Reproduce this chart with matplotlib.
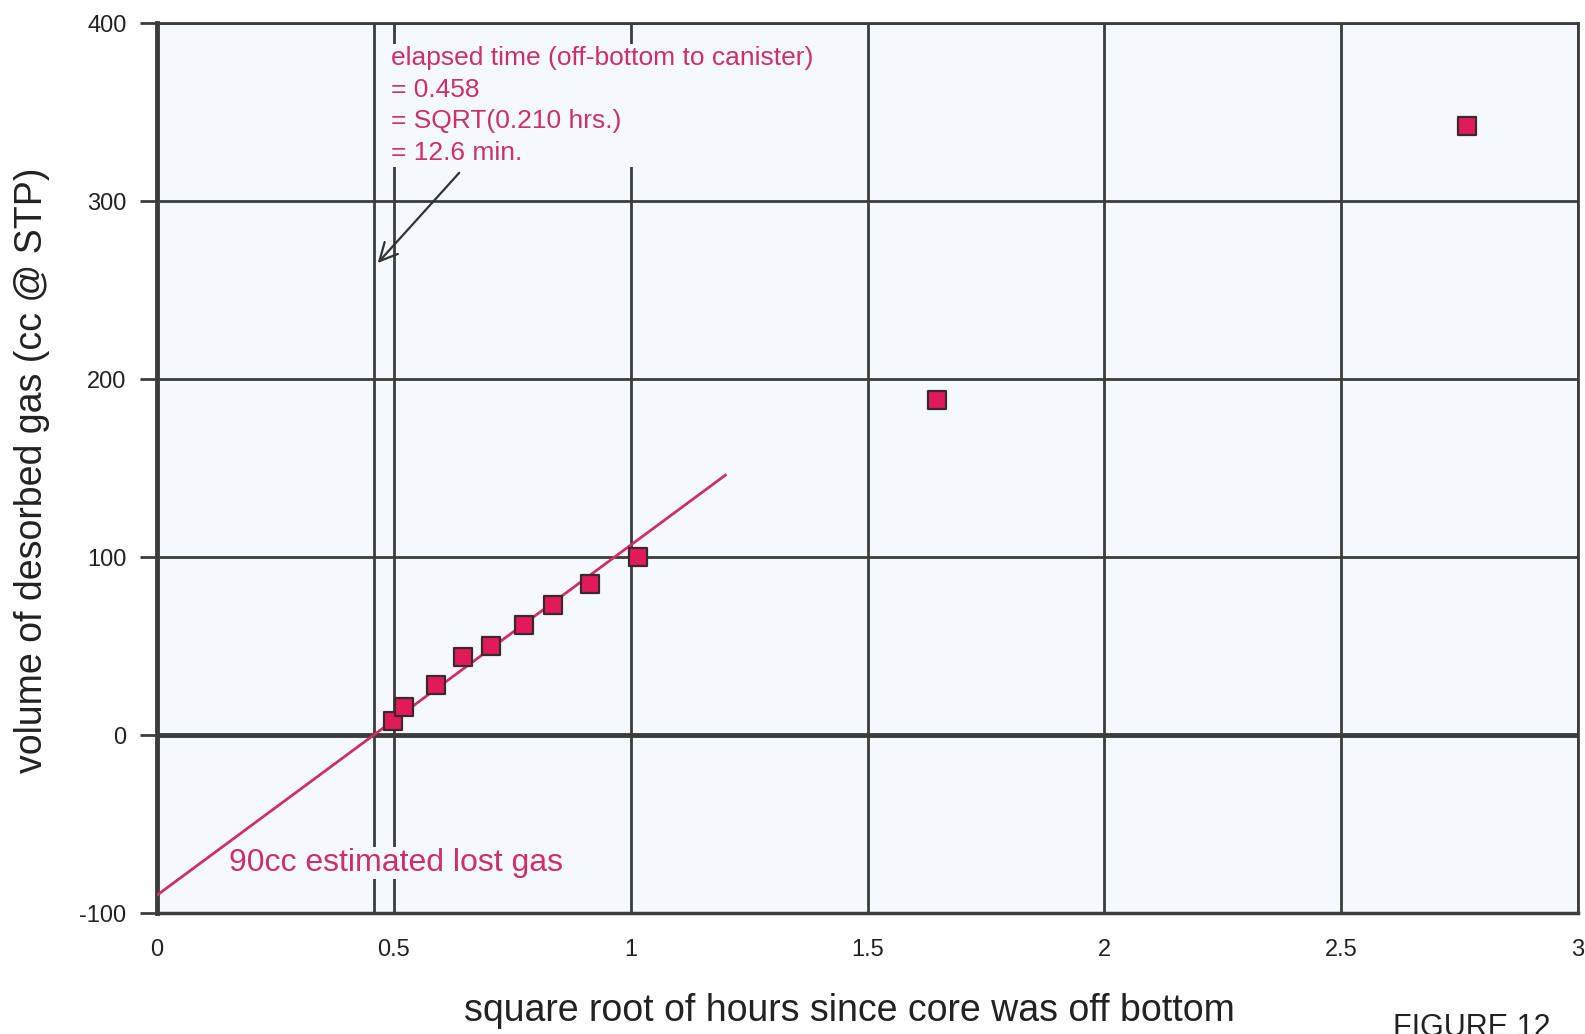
import matplotlib.pyplot as plt
from matplotlib.patches import FancyArrowPatch

plt.rcParams['font.family'] = ['Liberation Sans', 'DejaVu Sans']
plt.rcParams['axes.unicode_minus'] = False

# desorption readings
sqrt_hours = [0.499, 0.522, 0.589, 0.645, 0.706, 0.774, 0.837, 0.915, 1.015, 1.646, 2.766]
gas_cc = [8, 16, 28, 44, 50, 62, 73, 85, 100, 188, 342]

# straight-line fit back to zero (lost gas)
fit_x = [0.0, 1.2]
fit_y = [-90, 146]
t_zero = 0.458

x_ticks = [0, 0.5, 1, 1.5, 2, 2.5, 3]
x_ticklabels = ['0', '0.5', '1', '1.5', '2', '2.5', '3']
y_ticks = [-100, 0, 100, 200, 300, 400]

note_text = ('elapsed time (off-bottom to canister)\n= 0.458\n'
             '= SQRT(0.210 hrs.)\n= 12.6 min.')
lost_text = '90cc estimated lost gas'

bg = '#f3f9fc'
grid_col = '#3c3c3c'
red = '#cf2f66'

fig = plt.figure(figsize=(15.85, 10.34), dpi=100)
ax = fig.add_axes([157 / 1585, 1 - 913 / 1034, 1421 / 1585, 890 / 1034])
ax.set_facecolor(bg)

ax.set_xlim(0, 3)
ax.set_ylim(-100, 400)
ax.set_xticks(x_ticks)
ax.set_xticklabels(x_ticklabels)
ax.set_yticks(y_ticks)
ax.tick_params(axis='x', length=0, pad=19, labelsize=17, colors='#222222')
ax.tick_params(axis='y', length=12, width=2, color=grid_col, pad=10,
               labelsize=17, labelcolor='#222222')

ax.set_axisbelow(True)
ax.grid(True, color=grid_col, linewidth=2)
for s in ax.spines.values():
    s.set_color(grid_col)
    s.set_linewidth(2)
ax.spines['left'].set_linewidth(3.5)
ax.spines['bottom'].set_linewidth(2.5)
ax.axhline(0, color=grid_col, linewidth=3.5, zorder=1)

# line at the zero-gas time
ax.axvline(t_zero, color=grid_col, linewidth=2, zorder=1)

ax.plot(fit_x, fit_y, color=red, linewidth=2, zorder=3)
ax.scatter(sqrt_hours, gas_cc, marker='s', s=170, color='#e21a5c',
           edgecolor='#3a2a2e', linewidth=1.6, zorder=4)

ax.text(0.494, 387, note_text, color=red, fontsize=19, va='top', ha='left',
        linespacing=1.40, zorder=2,
        bbox=dict(facecolor=bg, edgecolor='none', pad=1.5))
ax.text(0.152, -76.5, lost_text, color=red, fontsize=23, va='baseline',
        ha='left', zorder=2, bbox=dict(facecolor=bg, edgecolor='none', pad=1))

arrow = FancyArrowPatch((0.642, 317), (0.462, 264), arrowstyle='->',
                        mutation_scale=32, color='#333333', linewidth=1.6,
                        zorder=5)
ax.add_patch(arrow)

ax.set_xlabel('square root of hours since core was off bottom', fontsize=27,
              color='#222222', va='center')
ax.xaxis.set_label_coords(0.487, -0.110)
ax.set_ylabel('volume of desorbed gas (cc @ STP)', fontsize=27,
              color='#222222', va='center')
ax.yaxis.set_label_coords(-0.088, 0.497)

fig.text(1393 / 1585, 1 - 1013 / 1034, 'FIGURE 12', fontsize=22,
         color='#222222', va='top', ha='left')

plt.savefig('out.png', dpi=100)
